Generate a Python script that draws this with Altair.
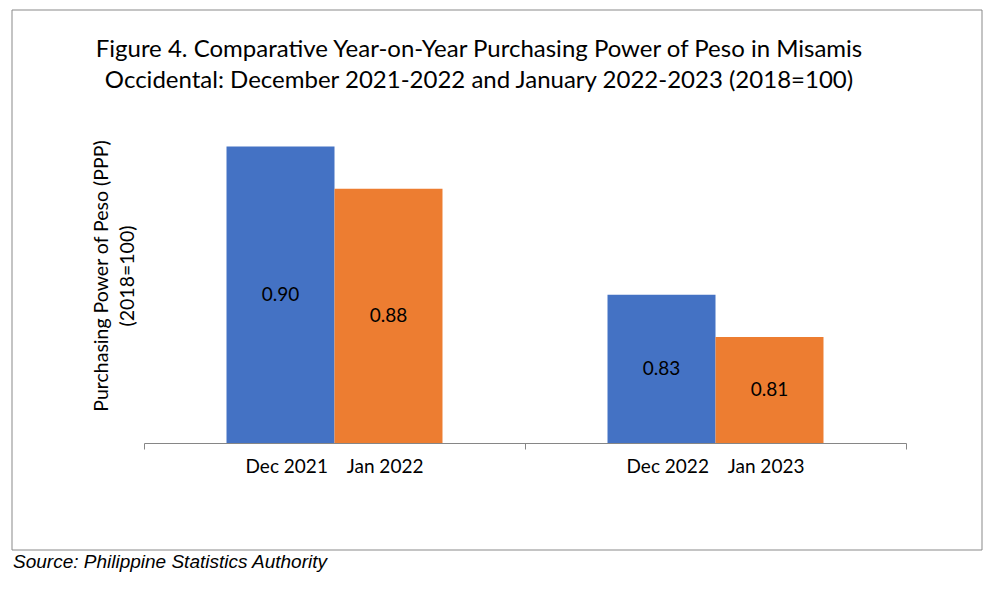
import altair as alt
import pandas as pd

NB = "\u00a0"
groups = ["Dec 2021" + NB * 4 + "Jan 2022", "Dec 2022" + NB * 4 + "Jan 2023"]
months = ["December", "January"]
dec_values = [0.90, 0.83]
jan_values = [0.88, 0.81]
title_lines = [
    "Figure 4. Comparative Year-on-Year Purchasing Power of Peso in Misamis",
    "Occidental: December 2021-2022 and January 2022-2023 (2018=100)",
]
ytitle_lines = ["Purchasing Power of Peso (PPP)", "(2018=100)"]
source_text = "Source: Philippine Statistics Authority"

rows = []
for g, d, j in zip(groups, dec_values, jan_values):
    rows.append({"group": g, "month": months[0], "value": d})
    rows.append({"group": g, "month": months[1], "value": j})
df = pd.DataFrame(rows)

FONT = "Lato"
BASE = 0.76
W, H = 762, 339

x_enc = alt.X(
    "group:N",
    sort=groups,
    scale=alt.Scale(paddingInner=0, paddingOuter=0),
    axis=alt.Axis(
        title=None,
        bandPosition=1,
        tickExtra=True,
        tickSize=6,
        tickColor="#868686",
        domainColor="#868686",
        labelFont=FONT,
        labelFontSize=19,
        labelColor="#000000",
        labelPadding=8,
        labelAngle=0,
        grid=False,
    ),
)
xo_enc = alt.XOffset(
    "month:N", sort=months, scale=alt.Scale(paddingInner=0, paddingOuter=0.764)
)
y_scale = alt.Scale(domain=[BASE, 0.92], zero=False, nice=False)

base = alt.Chart(df)

bars = base.mark_bar().encode(
    x=x_enc,
    xOffset=xo_enc,
    y=alt.Y("value:Q", scale=y_scale, axis=None),
    y2=alt.datum(BASE),
    color=alt.Color(
        "month:N",
        sort=months,
        scale=alt.Scale(domain=months, range=["#4472C4", "#ED7D31"]),
        legend=None,
    ),
)

labels = (
    base.transform_calculate(mid=f"(datum.value + {BASE}) / 2")
    .mark_text(font=FONT, fontSize=19, color="#000000", baseline="middle")
    .encode(
        x=alt.X("group:N", sort=groups),
        xOffset=xo_enc,
        y=alt.Y("mid:Q", scale=y_scale),
        text=alt.Text("value:Q", format=".2f"),
    )
)

one = pd.DataFrame({"k": [0]})

frame = (
    alt.Chart(one)
    .mark_rect(fill=None, stroke="#898989", strokeWidth=1)
    .encode(
        x=alt.value(-132), x2=alt.value(838), y=alt.value(-94), y2=alt.value(446)
    )
)

title = (
    alt.Chart(one)
    .mark_text(
        text=title_lines,
        font=FONT,
        fontSize=24,
        color="#000000",
        align="center",
        baseline="alphabetic",
        lineHeight=31,
    )
    .encode(x=alt.value(335), y=alt.value(-47))
)

ytitle = (
    alt.Chart(one)
    .mark_text(
        text=ytitle_lines,
        font=FONT,
        fontSize=19.5,
        color="#000000",
        align="center",
        baseline="middle",
        angle=270,
        lineHeight=26,
    )
    .encode(x=alt.value(-42), y=alt.value(172))
)

source = (
    alt.Chart(one)
    .mark_text(
        text=source_text,
        font="Liberation Sans",
        fontStyle="italic",
        fontSize=19,
        color="#000000",
        align="left",
        baseline="alphabetic",
    )
    .encode(x=alt.value(-131), y=alt.value(464))
)

chart = (
    alt.layer(frame, bars, labels, title, ytitle, source)
    .properties(
        width=W,
        height=H,
        padding={"left": 3, "top": 1, "right": 5, "bottom": 5},
        background="white",
    )
    .configure_view(stroke=None)
)

chart.save("out.html", embed_options={"renderer": "svg", "actions": False})
